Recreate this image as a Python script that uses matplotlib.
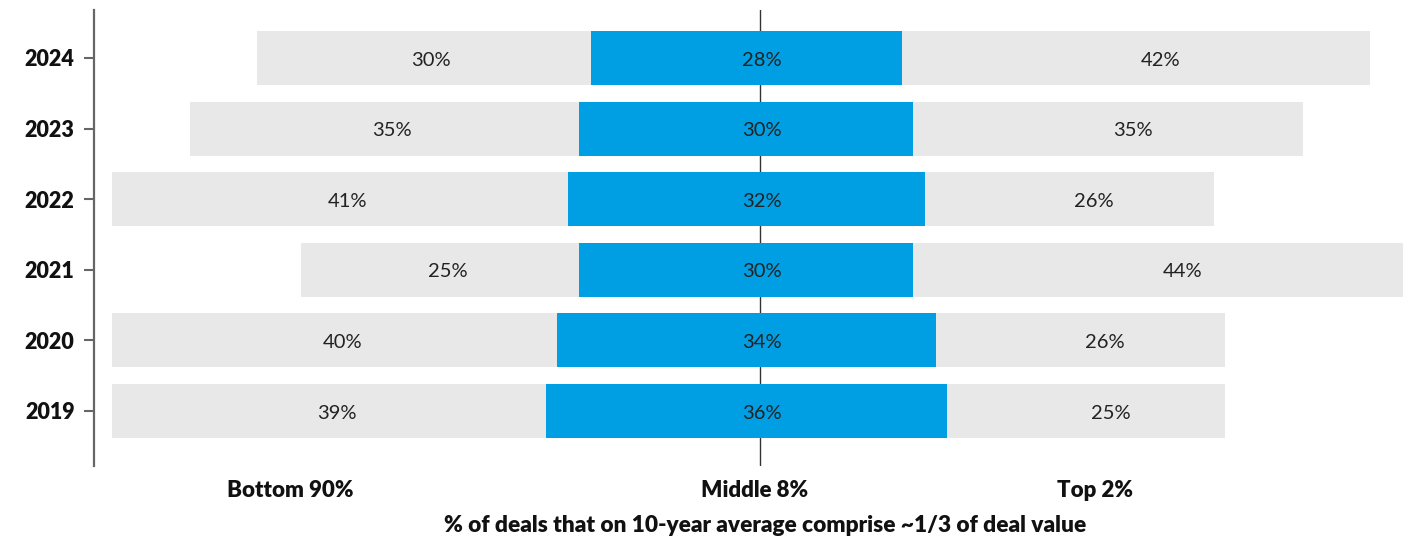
import matplotlib
matplotlib.use("Agg")
import matplotlib.pyplot as plt
import numpy as np

plt.rcParams['font.family'] = ['Lato', 'DejaVu Sans']

years = ["2019", "2020", "2021", "2022", "2023", "2024"]
bottom90 = [39, 40, 25, 41, 35, 30]
middle8 = [36, 34, 30, 32, 30, 28]
top2 = [25, 26, 44, 26, 35, 42]
group_labels = ["Bottom 90%", "Middle 8%", "Top 2%"]
xlabel = "% of deals that on 10-year average comprise ~1/3 of deal value"

GRAY = "#E8E8E8"
BLUE = "#009FE3"
TXT = "#222222"

fig = plt.figure(figsize=(14.2, 5.4), dpi=100)
ax = fig.add_axes([94/1420, 74/540, 1 - 94/1420, 456/540])

y = np.arange(len(years))
b = np.array(bottom90, float)
m = np.array(middle8, float)
t = np.array(top2, float)
h = 0.765

left_start = -m/2 - b
ax.barh(y, b, left=left_start, height=h, color=GRAY, zorder=2)
ax.barh(y, m, left=-m/2, height=h, color=BLUE, zorder=2)
ax.barh(y, t, left=m/2, height=h, color=GRAY, zorder=2)

ax.axvline(1.2, color="#333333", lw=1.0, zorder=1)

for i in range(len(years)):
    ax.text(-m[i]/2 - b[i]/2 + 0.7, y[i] - 0.03, f"{bottom90[i]}%", ha="center", va="center",
            fontsize=14.5, color=TXT, zorder=3)
    ax.text(1.4, y[i] - 0.03, f"{middle8[i]}%", ha="center", va="center",
            fontsize=14.5, color=TXT, zorder=3)
    ax.text(m[i]/2 + t[i]/2 + 2.2, y[i] - 0.03, f"{top2[i]}%", ha="center", va="center",
            fontsize=14.5, color=TXT, zorder=3)

ax.set_xlim(-58.6, 60.5)
ax.set_ylim(-0.78, 5.68)
ax.set_yticks(y)
ax.set_yticklabels(years, fontsize=15.5, fontweight="heavy", color="#111111")
ax.tick_params(axis="y", length=7, width=1.5, color="#666666", pad=7)
ax.set_xticks([])
for s in ["top", "right", "bottom"]:
    ax.spines[s].set_visible(False)
ax.spines["left"].set_color("#666666")
ax.spines["left"].set_linewidth(1.6)

gx = [-41.0, 0.76, 31.3]
for lab, xx in zip(group_labels, gx):
    ax.text(xx, -1.13, lab, ha="center", va="center", fontsize=16,
            fontweight="heavy", color="#111111", transform=ax.transData, clip_on=False)

fig.text(765/1420, 1 - 525/540, xlabel, ha="center", va="center", fontsize=16.3,
         fontweight="heavy", color="#111111")

fig.savefig("out.png", dpi=100)
